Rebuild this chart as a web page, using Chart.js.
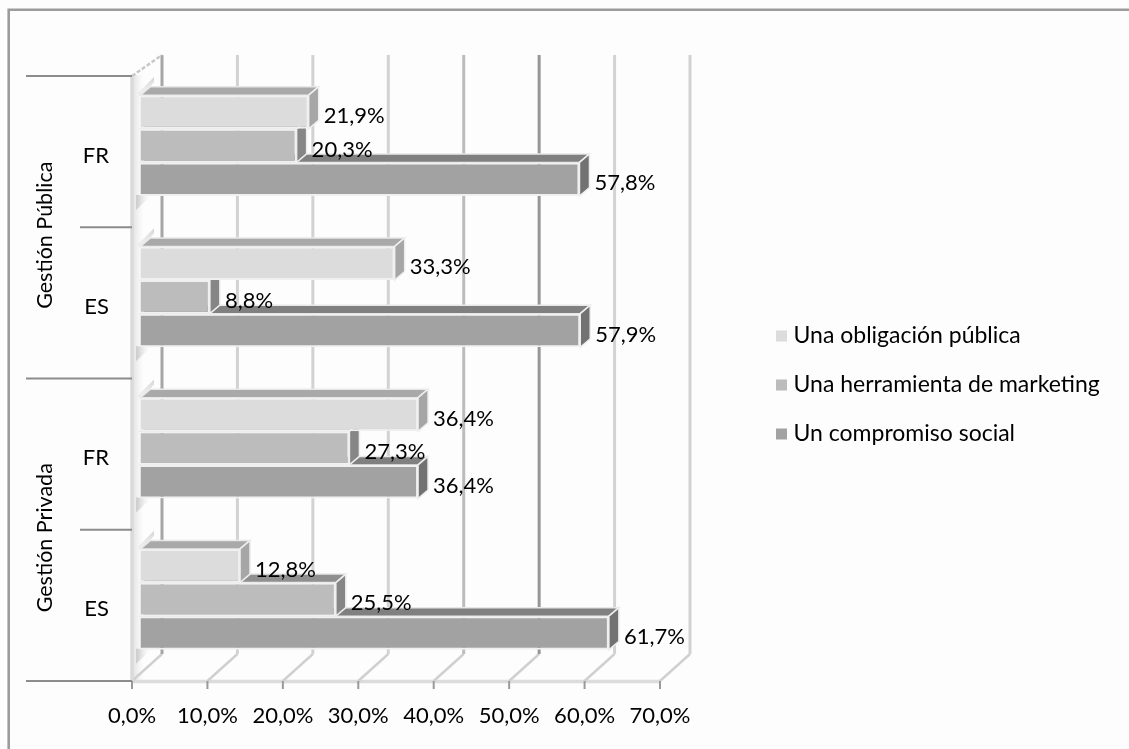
<!DOCTYPE html>
<html><head><meta charset="utf-8">
<style>html,body{margin:0;padding:0;background:#fff}canvas{display:block}</style>
<script src="https://cdn.jsdelivr.net/npm/chart.js@4/dist/chart.umd.min.js"></script>
</head><body><canvas id="c" width="1129" height="749"></canvas>
<script>
const categories = ['FR','ES','FR','ES'];
const groups = ['Gestión Pública','Gestión Privada'];
const obligacion = [21.9,33.3,36.4,12.8];
const marketing = [20.3,8.8,27.3,25.5];
const compromiso = [57.8,57.9,36.4,61.7];
const seriesNames = ['Una obligación pública','Una herramienta de marketing','Un compromiso social'];
const fronts = ['#dcdcdc','#bcbcbc','#a2a2a2'];
const tops = ['#a9a9a9','#8f8f8f','#808080'];
const sides = ['#a6a6a6','#868686','#727272'];
const gridColors = ['#a6a6a6','#d2d2d2','#d2d2d2','#d2d2d2','#bcbcbc','#969696','#d2d2d2','#d2d2d2'];
const FONT = 'Lato, sans-serif';
const SHIFT = {x:11.5,y:-6}, DEPTH = {x:10,y:-8.5}, WALL = {x:30,y:-27};

function poly(ctx,pts,fill,stroke,lw){
  ctx.beginPath();pts.forEach((p,i)=>i?ctx.lineTo(p[0],p[1]):ctx.moveTo(p[0],p[1]));ctx.closePath();
  if(fill){ctx.fillStyle=fill;ctx.fill();}
  if(stroke){ctx.strokeStyle=stroke;ctx.lineWidth=lw||1;ctx.stroke();}
}
const scene = {
  id:'scene',
  afterLayout(chart){
    const l = chart.legend;
    const w = l.width, h = l.height;
    l.left = 755; l.right = 755+w; l.top = 298.5; l.bottom = 298.5+h;
  },
  beforeDraw(chart){
    const c = chart.ctx;
    c.save();
    c.fillStyle='#fdfdfd';c.fillRect(0,0,1129,749);
    c.strokeStyle='#9c9c9c';c.lineWidth=2.6;
    c.beginPath();c.moveTo(8.7,749);c.lineTo(8.7,9.7);c.lineTo(1129,9.7);c.stroke();
    c.restore();
  },
  beforeDatasetsDraw(chart){
    const c = chart.ctx, xs = chart.scales.x, ys = chart.scales.y;
    const T = ys.top, B = ys.bottom, L = xs.left;
    c.save();
    // left wall shading
    const g = c.createLinearGradient(L,0,L+12,0);
    g.addColorStop(0,'#dedede');g.addColorStop(1,'rgba(240,240,240,0)');
    c.fillStyle=g;c.fillRect(L-1,T-1,13,B-T+1);
    const n = categories.length, bh = (B-T)/n;
    for(let i=0;i<n;i++){
      const y = T+bh*i;
      const s = c.createLinearGradient(0,y,0,y+20);
      s.addColorStop(0,'rgba(205,205,205,0.9)');s.addColorStop(1,'rgba(225,225,225,0.3)');
      poly(c,[[137,y+18],[154,y+1],[154,y+6],[143,y+19]],s);
      const u = c.createLinearGradient(137,0,150,0);
      u.addColorStop(0,'#cfcfcf');u.addColorStop(1,'rgba(235,235,235,0)');
      poly(c,[[136,y+119],[152,y+119],[136,y+134]],u);
    }
    // floor line
    c.strokeStyle='#dcdcdc';c.lineWidth=3.5;
    c.beginPath();c.moveTo(L,B+0.5);c.lineTo(xs.right,B+0.5);c.stroke();
    xs.ticks.forEach((t,i)=>{
      const x = xs.getPixelForValue(t.value);
      // floor diagonals
      c.strokeStyle='#d0d0d0';c.lineWidth=2.5;
      c.beginPath();c.moveTo(x,B);c.lineTo(x+WALL.x,B+WALL.y);c.stroke();
      // back wall verticals
      c.strokeStyle=gridColors[i];c.lineWidth=3;
      c.beginPath();c.moveTo(x+WALL.x,B+WALL.y);c.lineTo(x+WALL.x,55);c.stroke();
      // ticks under the floor
      c.strokeStyle='#9a9a9a';c.lineWidth=2;
      c.beginPath();c.moveTo(x,B);c.lineTo(x,B+8);c.stroke();
    });
    // top of side wall
    c.strokeStyle='#c8c8c8';c.lineWidth=2.5;c.setLineDash([4,2]);
    c.beginPath();c.moveTo(L,T);c.lineTo(L+WALL.x,55);c.stroke();
    c.setLineDash([]);
    // front wall edge
    c.strokeStyle='#dadada';c.lineWidth=3.5;
    c.beginPath();c.moveTo(L,T);c.lineTo(L,B);c.stroke();
    // category separators
    c.strokeStyle='#8c8c8c';c.lineWidth=2;
    for(let i=0;i<=n;i++){
      const y = T+bh*i, sx = i%2===0?26:80;
      c.beginPath();c.moveTo(sx,y);c.lineTo(L,y);c.stroke();
    }
    c.restore();
  },
  beforeDatasetDraw(chart,args){
    const c = chart.ctx, i = args.index, meta = args.meta;
    c.save();
    c.translate(SHIFT.x,SHIFT.y);
    meta.data.forEach(bar=>{
      const h = bar.height, x0 = bar.base, x1 = bar.x, y0 = bar.y-h/2, y1 = bar.y+h/2;
      poly(c,[[x0,y0],[x0+DEPTH.x,y0+DEPTH.y],[x1+DEPTH.x,y0+DEPTH.y],[x1,y0]],tops[i],'#e8e8e8',1.5);
      poly(c,[[x1,y0],[x1+DEPTH.x,y0+DEPTH.y],[x1+DEPTH.x,y1+DEPTH.y],[x1,y1]],sides[i],'#eeeeee',1.5);
    });
  },
  afterDatasetDraw(chart){chart.ctx.restore();},
  afterDatasetsDraw(chart){
    const c = chart.ctx, ys = chart.scales.y;
    c.save();
    c.fillStyle='#000';c.font='22px '+FONT;c.textBaseline='middle';c.textAlign='left';
    chart.data.datasets.forEach((ds,i)=>{
      chart.getDatasetMeta(i).data.forEach((bar,j)=>{
        c.fillText(ds.data[j].toFixed(1).replace('.',',')+'%',bar.x+SHIFT.x+15,bar.y+SHIFT.y+4);
      });
    });
    c.textAlign='center';c.font='21.5px '+FONT;
    groups.forEach((g,k)=>{
      const y = (ys.getPixelForValue(k*2)+ys.getPixelForValue(k*2+1))/2+8;
      c.save();c.translate(45,y);c.rotate(-Math.PI/2);c.fillText(g,0,0);c.restore();
    });
    c.restore();
  }
};
function ds(i,data){
  return {label:seriesNames[i],data,backgroundColor:fronts[i],borderColor:'#f0f0f0',borderWidth:2,
    base:-0.4,clip:false,barPercentage:1,categoryPercentage:0.667};
}
new Chart(document.getElementById('c'),{
  type:'bar',
  data:{labels:categories,datasets:[ds(0,obligacion),ds(1,marketing),ds(2,compromiso)]},
  plugins:[scene],
  options:{
    indexAxis:'y',responsive:false,animation:false,
    layout:{padding:{left:0,top:76,right:469,bottom:0}},
    scales:{
      x:{min:0,max:70,position:'bottom',grid:{display:false},border:{display:false},
        ticks:{stepSize:10,maxRotation:0,autoSkip:false,padding:14,color:'#000',font:{family:FONT,size:22},
          callback:v=>v.toFixed(1).replace('.',',')+'%'},
        afterFit(s){s.height=68;}},
      y:{grid:{display:false},border:{display:false},
        ticks:{padding:15,labelOffset:4,color:'#000',font:{family:FONT,size:22}},
        afterFit(s){s.width=132;}}
    },
    plugins:{
      tooltip:{enabled:false},
      legend:{position:'chartArea',align:'start',onClick:null,
        labels:{boxWidth:1,boxHeight:1,padding:26,color:'#000',font:{family:FONT,size:23},
          generateLabels:ch=>ch.data.datasets.map((d,i)=>({text:d.label,fillStyle:fronts[i],strokeStyle:fronts[i],lineWidth:10,datasetIndex:i}))}}
    }
  }
});
</script></body></html>
